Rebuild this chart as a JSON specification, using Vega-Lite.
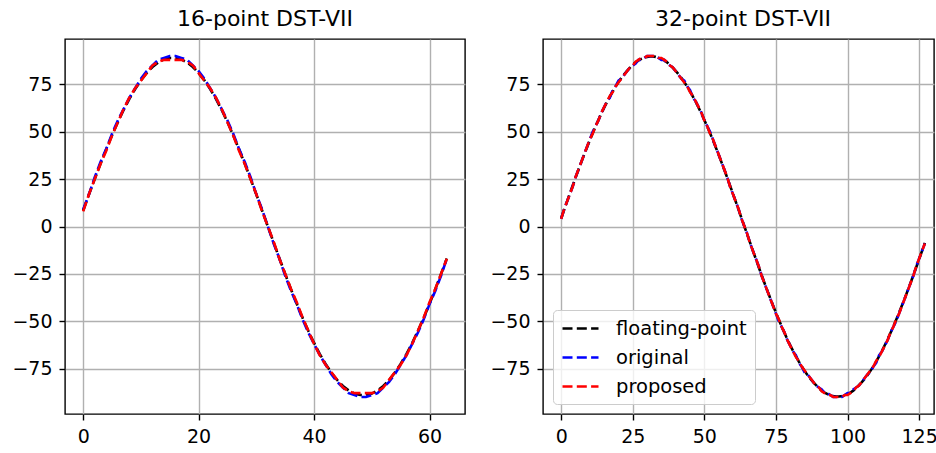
{
"$schema": "https://vega.github.io/schema/vega-lite/v6.json",
"padding": {"left": 11, "top": 7, "right": 0, "bottom": 0},
"background": "white",
"config": {
 "font": "DejaVu Sans",
 "view": {"stroke": "black", "strokeWidth": 1.4},
 "axis": {"domain": false, "ticks": true, "tickColor": "black", "tickSize": 6, "tickWidth": 1.4, "labelFontSize": 19, "labelColor": "black", "labelPadding": 7, "gridColor": "#b0b0b0", "gridWidth": 1.4, "grid": true, "title": null, "labelFont": "DejaVu Sans"},
 "title": {"fontSize": 22, "fontWeight": "normal", "color": "black", "offset": 8, "font": "DejaVu Sans"}
},
"datasets": {
"d16": [
{"n":0,"f":8.47,"o":9,"p":8},{"n":1,"f":16.86,"o":17,"p":17},{"n":2,"f":25.10,"o":26,"p":25},{"n":3,"f":33.11,"o":34,"p":33},
{"n":4,"f":40.83,"o":41,"p":40},{"n":5,"f":48.17,"o":49,"p":48},{"n":6,"f":55.08,"o":56,"p":55},{"n":7,"f":61.49,"o":62,"p":62},
{"n":8,"f":67.34,"o":68,"p":68},{"n":9,"f":72.58,"o":73,"p":73},{"n":10,"f":77.16,"o":78,"p":77},{"n":11,"f":81.05,"o":82,"p":81},
{"n":12,"f":84.20,"o":85,"p":85},{"n":13,"f":86.59,"o":88,"p":87},{"n":14,"f":88.19,"o":89,"p":88},{"n":15,"f":89.00,"o":90,"p":88},
{"n":16,"f":89.00,"o":90,"p":88},{"n":17,"f":88.19,"o":89,"p":88},{"n":18,"f":86.59,"o":88,"p":87},{"n":19,"f":84.20,"o":85,"p":85},
{"n":20,"f":81.05,"o":82,"p":81},{"n":21,"f":77.16,"o":78,"p":77},{"n":22,"f":72.58,"o":73,"p":73},{"n":23,"f":67.34,"o":68,"p":68},
{"n":24,"f":61.49,"o":62,"p":62},{"n":25,"f":55.08,"o":56,"p":55},{"n":26,"f":48.17,"o":49,"p":48},{"n":27,"f":40.83,"o":41,"p":40},
{"n":28,"f":33.11,"o":34,"p":33},{"n":29,"f":25.10,"o":26,"p":25},{"n":30,"f":16.86,"o":17,"p":17},{"n":31,"f":8.47,"o":9,"p":8},
{"n":32,"f":0,"o":0,"p":0},
{"n":33,"f":-8.47,"o":-9,"p":-8},{"n":34,"f":-16.86,"o":-17,"p":-17},{"n":35,"f":-25.10,"o":-26,"p":-25},{"n":36,"f":-33.11,"o":-34,"p":-33},
{"n":37,"f":-40.83,"o":-41,"p":-40},{"n":38,"f":-48.17,"o":-49,"p":-48},{"n":39,"f":-55.08,"o":-56,"p":-55},{"n":40,"f":-61.49,"o":-62,"p":-62},
{"n":41,"f":-67.34,"o":-68,"p":-68},{"n":42,"f":-72.58,"o":-73,"p":-73},{"n":43,"f":-77.16,"o":-78,"p":-77},{"n":44,"f":-81.05,"o":-82,"p":-81},
{"n":45,"f":-84.20,"o":-85,"p":-85},{"n":46,"f":-86.59,"o":-88,"p":-87},{"n":47,"f":-88.19,"o":-89,"p":-88},{"n":48,"f":-89.00,"o":-90,"p":-88},
{"n":49,"f":-89.00,"o":-90,"p":-88},{"n":50,"f":-88.19,"o":-89,"p":-88},{"n":51,"f":-86.59,"o":-88,"p":-87},{"n":52,"f":-84.20,"o":-85,"p":-85},
{"n":53,"f":-81.05,"o":-82,"p":-81},{"n":54,"f":-77.16,"o":-78,"p":-77},{"n":55,"f":-72.58,"o":-73,"p":-73},{"n":56,"f":-67.34,"o":-68,"p":-68},
{"n":57,"f":-61.49,"o":-62,"p":-62},{"n":58,"f":-55.08,"o":-56,"p":-55},{"n":59,"f":-48.17,"o":-49,"p":-48},{"n":60,"f":-40.83,"o":-41,"p":-40},
{"n":61,"f":-33.11,"o":-34,"p":-33},{"n":62,"f":-25.10,"o":-26,"p":-25},{"n":63,"f":-16.86,"o":-17,"p":-17}
],
"d32": [
{"n":0,"f":4.34,"o":4,"p":4},{"n":1,"f":8.67,"o":9,"p":9},{"n":2,"f":12.98,"o":13,"p":13},{"n":3,"f":17.25,"o":17,"p":17},
{"n":4,"f":21.49,"o":21,"p":21},{"n":5,"f":25.68,"o":26,"p":26},{"n":6,"f":29.81,"o":30,"p":30},{"n":7,"f":33.86,"o":34,"p":34},
{"n":8,"f":37.84,"o":38,"p":38},{"n":9,"f":41.73,"o":42,"p":42},{"n":10,"f":45.52,"o":46,"p":46},{"n":11,"f":49.21,"o":50,"p":49},
{"n":12,"f":52.78,"o":53,"p":53},{"n":13,"f":56.23,"o":56,"p":56},{"n":14,"f":59.55,"o":60,"p":60},{"n":15,"f":62.72,"o":63,"p":63},
{"n":16,"f":65.75,"o":66,"p":66},{"n":17,"f":68.62,"o":68,"p":69},{"n":18,"f":71.33,"o":72,"p":71},{"n":19,"f":73.86,"o":74,"p":74},
{"n":20,"f":76.23,"o":77,"p":76},{"n":21,"f":78.41,"o":78,"p":78},{"n":22,"f":80.40,"o":80,"p":80},{"n":23,"f":82.19,"o":82,"p":82},
{"n":24,"f":83.79,"o":84,"p":84},{"n":25,"f":85.40,"o":85,"p":85},{"n":26,"f":86.65,"o":86,"p":87},{"n":27,"f":87.68,"o":88,"p":88},
{"n":28,"f":88.52,"o":88,"p":89},{"n":29,"f":89.15,"o":89,"p":89},{"n":30,"f":89.56,"o":90,"p":90},{"n":31,"f":89.77,"o":90,"p":90},
{"n":32,"f":89.77,"o":90,"p":90},{"n":33,"f":89.56,"o":90,"p":90},{"n":34,"f":89.15,"o":89,"p":89},{"n":35,"f":88.52,"o":88,"p":89},
{"n":36,"f":87.68,"o":88,"p":88},{"n":37,"f":86.65,"o":86,"p":87},{"n":38,"f":85.40,"o":85,"p":85},{"n":39,"f":83.79,"o":84,"p":84},
{"n":40,"f":82.19,"o":82,"p":82},{"n":41,"f":80.40,"o":80,"p":80},{"n":42,"f":78.41,"o":78,"p":78},{"n":43,"f":76.23,"o":77,"p":76},
{"n":44,"f":73.86,"o":74,"p":74},{"n":45,"f":71.33,"o":72,"p":71},{"n":46,"f":68.62,"o":68,"p":69},{"n":47,"f":65.75,"o":66,"p":66},
{"n":48,"f":62.72,"o":63,"p":63},{"n":49,"f":59.55,"o":60,"p":60},{"n":50,"f":56.23,"o":56,"p":56},{"n":51,"f":52.78,"o":53,"p":53},
{"n":52,"f":49.21,"o":50,"p":49},{"n":53,"f":45.52,"o":46,"p":46},{"n":54,"f":41.73,"o":42,"p":42},{"n":55,"f":37.84,"o":38,"p":38},
{"n":56,"f":33.86,"o":34,"p":34},{"n":57,"f":29.81,"o":30,"p":30},{"n":58,"f":25.68,"o":26,"p":26},{"n":59,"f":21.49,"o":21,"p":21},
{"n":60,"f":17.25,"o":17,"p":17},{"n":61,"f":12.98,"o":13,"p":13},{"n":62,"f":8.67,"o":9,"p":9},{"n":63,"f":4.34,"o":4,"p":4},
{"n":64,"f":0,"o":0,"p":0},
{"n":65,"f":-4.34,"o":-4,"p":-4},{"n":66,"f":-8.67,"o":-9,"p":-9},{"n":67,"f":-12.98,"o":-13,"p":-13},{"n":68,"f":-17.25,"o":-17,"p":-17},
{"n":69,"f":-21.49,"o":-21,"p":-21},{"n":70,"f":-25.68,"o":-26,"p":-26},{"n":71,"f":-29.81,"o":-30,"p":-30},{"n":72,"f":-33.86,"o":-34,"p":-34},
{"n":73,"f":-37.84,"o":-38,"p":-38},{"n":74,"f":-41.73,"o":-42,"p":-42},{"n":75,"f":-45.52,"o":-46,"p":-46},{"n":76,"f":-49.21,"o":-50,"p":-49},
{"n":77,"f":-52.78,"o":-53,"p":-53},{"n":78,"f":-56.23,"o":-56,"p":-56},{"n":79,"f":-59.55,"o":-60,"p":-60},{"n":80,"f":-62.72,"o":-63,"p":-63},
{"n":81,"f":-65.75,"o":-66,"p":-66},{"n":82,"f":-68.62,"o":-68,"p":-69},{"n":83,"f":-71.33,"o":-72,"p":-71},{"n":84,"f":-73.86,"o":-74,"p":-74},
{"n":85,"f":-76.23,"o":-77,"p":-76},{"n":86,"f":-78.41,"o":-78,"p":-78},{"n":87,"f":-80.40,"o":-80,"p":-80},{"n":88,"f":-82.19,"o":-82,"p":-82},
{"n":89,"f":-83.79,"o":-84,"p":-84},{"n":90,"f":-85.40,"o":-85,"p":-85},{"n":91,"f":-86.65,"o":-86,"p":-87},{"n":92,"f":-87.68,"o":-88,"p":-88},
{"n":93,"f":-88.52,"o":-88,"p":-89},{"n":94,"f":-89.15,"o":-89,"p":-89},{"n":95,"f":-89.56,"o":-90,"p":-90},{"n":96,"f":-89.77,"o":-90,"p":-90},
{"n":97,"f":-89.77,"o":-90,"p":-90},{"n":98,"f":-89.56,"o":-90,"p":-90},{"n":99,"f":-89.15,"o":-89,"p":-89},{"n":100,"f":-88.52,"o":-88,"p":-89},
{"n":101,"f":-87.68,"o":-88,"p":-88},{"n":102,"f":-86.65,"o":-86,"p":-87},{"n":103,"f":-85.40,"o":-85,"p":-85},{"n":104,"f":-83.79,"o":-84,"p":-84},
{"n":105,"f":-82.19,"o":-82,"p":-82},{"n":106,"f":-80.40,"o":-80,"p":-80},{"n":107,"f":-78.41,"o":-78,"p":-78},{"n":108,"f":-76.23,"o":-77,"p":-76},
{"n":109,"f":-73.86,"o":-74,"p":-74},{"n":110,"f":-71.33,"o":-72,"p":-71},{"n":111,"f":-68.62,"o":-68,"p":-69},{"n":112,"f":-65.75,"o":-66,"p":-66},
{"n":113,"f":-62.72,"o":-63,"p":-63},{"n":114,"f":-59.55,"o":-60,"p":-60},{"n":115,"f":-56.23,"o":-56,"p":-56},{"n":116,"f":-52.78,"o":-53,"p":-53},
{"n":117,"f":-49.21,"o":-50,"p":-49},{"n":118,"f":-45.52,"o":-46,"p":-46},{"n":119,"f":-41.73,"o":-42,"p":-42},{"n":120,"f":-37.84,"o":-38,"p":-38},
{"n":121,"f":-33.86,"o":-34,"p":-34},{"n":122,"f":-29.81,"o":-30,"p":-30},{"n":123,"f":-25.68,"o":-26,"p":-26},{"n":124,"f":-21.49,"o":-21,"p":-21},
{"n":125,"f":-17.25,"o":-17,"p":-17},{"n":126,"f":-12.98,"o":-13,"p":-13},{"n":127,"f":-8.67,"o":-9,"p":-9}
]
},
"spacing": 23,
"resolve": {"legend": {"color": "independent"}},
"hconcat": [
 {
  "data": {"name": "d16"},
  "transform": [{"fold": ["f", "o", "p"], "as": ["k", "v"]}],
  "width": 400, "height": 375,
  "title": {"text": "16-point DST-VII"},
  "mark": {"type": "line", "strokeDash": [10, 4.3], "strokeWidth": 2.6, "clip": true},
  "encoding": {
   "x": {"field": "n", "type": "quantitative", "scale": {"domain": [-3.15, 66.15], "nice": false, "zero": false}, "axis": {"values": [0, 20, 40, 60]}},
   "y": {"field": "v", "type": "quantitative", "scale": {"domain": [-99, 99], "nice": false, "zero": false}, "axis": {"values": [-75, -50, -25, 0, 25, 50, 75], "labelExpr": "replace(datum.label, '-', '−')"}},
   "color": {"field": "k", "type": "nominal", "scale": {"domain": ["f", "o", "p"], "range": ["black", "blue", "red"]}, "legend": null}
  }
 },
 {
  "data": {"name": "d32"},
  "transform": [{"fold": ["f", "o", "p"], "as": ["k", "v"]}],
  "width": 391, "height": 375,
  "title": {"text": "32-point DST-VII", "dx": 4.5},
  "mark": {"type": "line", "strokeDash": [10, 4.3], "strokeWidth": 2.6, "clip": true},
  "encoding": {
   "x": {"field": "n", "type": "quantitative", "scale": {"domain": [-6.35, 130.2], "nice": false, "zero": false}, "axis": {"values": [0, 25, 50, 75, 100, 125]}},
   "y": {"field": "v", "type": "quantitative", "scale": {"domain": [-99, 99], "nice": false, "zero": false}, "axis": {"values": [-75, -50, -25, 0, 25, 50, 75], "labelExpr": "replace(datum.label, '-', '−')"}},
   "color": {"field": "k", "type": "nominal", "scale": {"domain": ["f", "o", "p"], "range": ["black", "blue", "red"]},
    "legend": {"orient": "bottom-left", "offset": 10, "title": null, "symbolType": "M-1,0H3", "symbolSize": 324, "symbolStrokeWidth": 2.6, "symbolDash": [10, 4.3], "labelFontSize": 19.5, "labelColor": "black", "labelFont": "DejaVu Sans", "fillColor": "rgba(255,255,255,0.8)", "strokeColor": "#cccccc", "cornerRadius": 4, "padding": 8, "rowPadding": 9, "labelOffset": 34,
     "labelExpr": "datum.label == 'f' ? 'floating-point' : datum.label == 'o' ? 'original' : 'proposed'"}
   }
  }
 }
]
}
